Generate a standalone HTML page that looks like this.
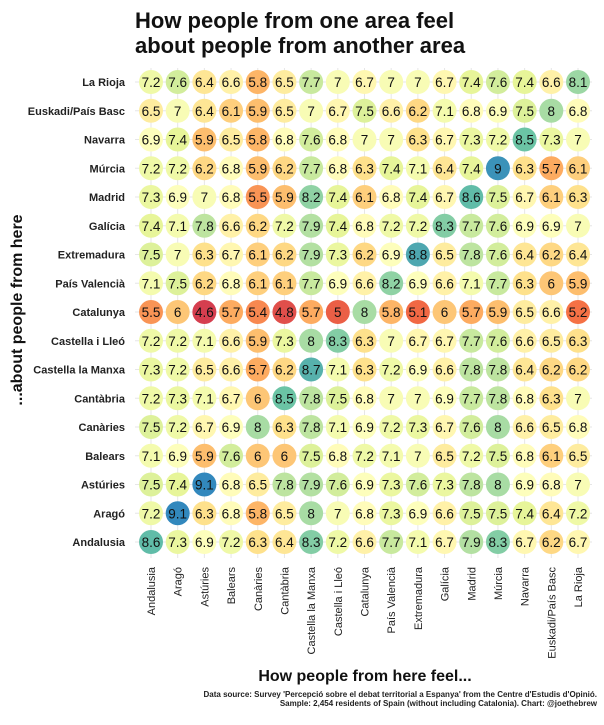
<!DOCTYPE html>
<html><head><meta charset="utf-8"><style>
body{margin:0;background:#fff;font-family:"Liberation Sans",sans-serif}
</style></head><body>
<svg id="chart" width="604" height="720" xmlns="http://www.w3.org/2000/svg" font-family="Liberation Sans, sans-serif">
<text x="135" y="28" font-size="22" font-weight="bold" fill="#111">How people from one area feel</text>
<text x="135" y="53" font-size="22" font-weight="bold" fill="#111">about people from another area</text>
<text transform="translate(22,310) rotate(-90)" text-anchor="middle" font-size="16" font-weight="bold" fill="#111">...about people from here</text>
<text x="365" y="681" text-anchor="middle" font-size="16" font-weight="bold" fill="#111">How people from here feel...</text>
<text x="597" y="697" text-anchor="end" font-size="8" font-weight="bold" fill="#222">Data source: Survey 'Percepció sobre el debat territorial a Espanya' from the Centre d'Estudis d'Opinió.</text>
<text x="597" y="706" text-anchor="end" font-size="8" font-weight="bold" fill="#222">Sample: 2,454 residents of Spain (without including Catalonia). Chart: @joethebrew</text>
<g id="grid"></g><g id="cells"></g><g id="labels"></g>
</svg>
<script>
const cols = ["Andalusia","Aragó","Astúries","Balears","Canàries","Cantàbria","Castella la Manxa","Castella i Lleó","Catalunya","País Valencià","Extremadura","Galícia","Madrid","Múrcia","Navarra","Euskadi/País Basc","La Rioja"];
const rows = ["La Rioja","Euskadi/País Basc","Navarra","Múrcia","Madrid","Galícia","Extremadura","País Valencià","Catalunya","Castella i Lleó","Castella la Manxa","Cantàbria","Canàries","Balears","Astúries","Aragó","Andalusia"];
const vLaRioja = [7.2,7.6,6.4,6.6,5.8,6.5,7.7,7,6.7,7,7,6.7,7.4,7.6,7.4,6.6,8.1];
const vEuskadi = [6.5,7,6.4,6.1,5.9,6.5,7,6.7,7.5,6.6,6.2,7.1,6.8,6.9,7.5,8,6.8];
const vNavarra = [6.9,7.4,5.9,6.5,5.8,6.8,7.6,6.8,7,7,6.3,6.7,7.3,7.2,8.5,7.3,7];
const vMurcia = [7.2,7.2,6.2,6.8,5.9,6.2,7.7,6.8,6.3,7.4,7.1,6.4,7.4,9,6.3,5.7,6.1];
const vMadrid = [7.3,6.9,7,6.8,5.5,5.9,8.2,7.4,6.1,6.8,7.4,6.7,8.6,7.5,6.7,6.1,6.3];
const vGalicia = [7.4,7.1,7.8,6.6,6.2,7.2,7.9,7.4,6.8,7.2,7.2,8.3,7.7,7.6,6.9,6.9,7];
const vExtremadura = [7.5,7,6.3,6.7,6.1,6.2,7.9,7.3,6.2,6.9,8.8,6.5,7.8,7.6,6.4,6.2,6.4];
const vValencia = [7.1,7.5,6.2,6.8,6.1,6.1,7.7,6.9,6.6,8.2,6.9,6.6,7.1,7.7,6.3,6,5.9];
const vCatalunya = [5.5,6,4.6,5.7,5.4,4.8,5.7,5,8,5.8,5.1,6,5.7,5.9,6.5,6.6,5.2];
const vCyL = [7.2,7.2,7.1,6.6,5.9,7.3,8,8.3,6.3,7,6.7,6.7,7.7,7.6,6.6,6.5,6.3];
const vCLM = [7.3,7.2,6.5,6.6,5.7,6.2,8.7,7.1,6.3,7.2,6.9,6.6,7.8,7.8,6.4,6.2,6.2];
const vCantabria = [7.2,7.3,7.1,6.7,6,8.5,7.8,7.5,6.8,7,7,6.9,7.7,7.8,6.8,6.3,7];
const vCanaries = [7.5,7.2,6.7,6.9,8,6.3,7.8,7.1,6.9,7.2,7.3,6.7,7.6,8,6.6,6.5,6.8];
const vBalears = [7.1,6.9,5.9,7.6,6,6,7.5,6.8,7.2,7.1,7,6.5,7.2,7.5,6.8,6.1,6.5];
const vAsturies = [7.5,7.4,9.1,6.8,6.5,7.8,7.9,7.6,6.9,7.3,7.6,7.3,7.8,8,6.9,6.8,7];
const vArago = [7.2,9.1,6.3,6.8,5.8,6.5,8,7,6.8,7.3,6.9,6.6,7.5,7.5,7.4,6.4,7.2];
const vAndalusia = [8.6,7.3,6.9,7.2,6.3,6.4,8.3,7.2,6.6,7.7,7.1,6.7,7.9,8.3,6.7,6.2,6.7];
const values = [vLaRioja,vEuskadi,vNavarra,vMurcia,vMadrid,vGalicia,vExtremadura,vValencia,vCatalunya,vCyL,vCLM,vCantabria,vCanaries,vBalears,vAsturies,vArago,vAndalusia];

const NS="http://www.w3.org/2000/svg";
const x0=151, x1=578, y0=82, y1=542;
const xPos=i=>x0+(x1-x0)*i/(cols.length-1);
const yPos=j=>y0+(y1-y0)*j/(rows.length-1);
const flat=values.flat(); const vmin=Math.min(...flat), vmax=Math.max(...flat);
const pal=["#d53e4f","#f46d43","#fdae61","#fee08b","#ffffbf","#e6f598","#abdda4","#66c2a5","#3288bd"];
function hex(h){return [1,3,5].map(k=>parseInt(h.substr(k,2),16));}
function color(v){let t=(v-vmin)/(vmax-vmin)*(pal.length-1);let i=Math.min(Math.floor(t),pal.length-2);let f=t-i;
 const a=hex(pal[i]),b=hex(pal[i+1]);return "rgb("+a.map((c,k)=>Math.round(c+(b[k]-c)*f)).join(",")+")";}
function mk(tag,attrs,parent){const e=document.createElementNS(NS,tag);for(const k in attrs)e.setAttribute(k,attrs[k]);parent.appendChild(e);return e;}
const grid=document.getElementById("grid"),cells=document.getElementById("cells"),labels=document.getElementById("labels");
cols.forEach((c,i)=>{const l=mk("line",{x1:xPos(i),x2:xPos(i),y1:y0-14,y2:y1+16,stroke:"#e6e6e6","stroke-width":1},grid);
 
 
 const t=mk("text",{transform:`translate(${xPos(i)+4},567) rotate(-90)`,"text-anchor":"end","font-size":"11",fill:"#222"},labels);
 t.textContent=c;
 
 });
rows.forEach((r,j)=>{const l=mk("line",{x1:x0-16,x2:x1+14,y1:yPos(j),y2:yPos(j),stroke:"#e6e6e6","stroke-width":1},grid);
 
 
 const t=mk("text",{x:125,y:yPos(j)+4,"text-anchor":"end","font-size":"11","font-weight":"bold",fill:"#222"},labels);
 t.textContent=r;
 
 });
values.forEach((row,j)=>row.forEach((v,i)=>{
 const c=mk("circle",{cx:xPos(i),cy:yPos(j),r:12,fill:color(v)},cells);
 
 
 const t=mk("text",{x:xPos(i),y:yPos(j)+5,"text-anchor":"middle","font-size":"13.5",fill:"#111"},cells);
 t.textContent=String(v);
 
 
}));
</script>
</body></html>
